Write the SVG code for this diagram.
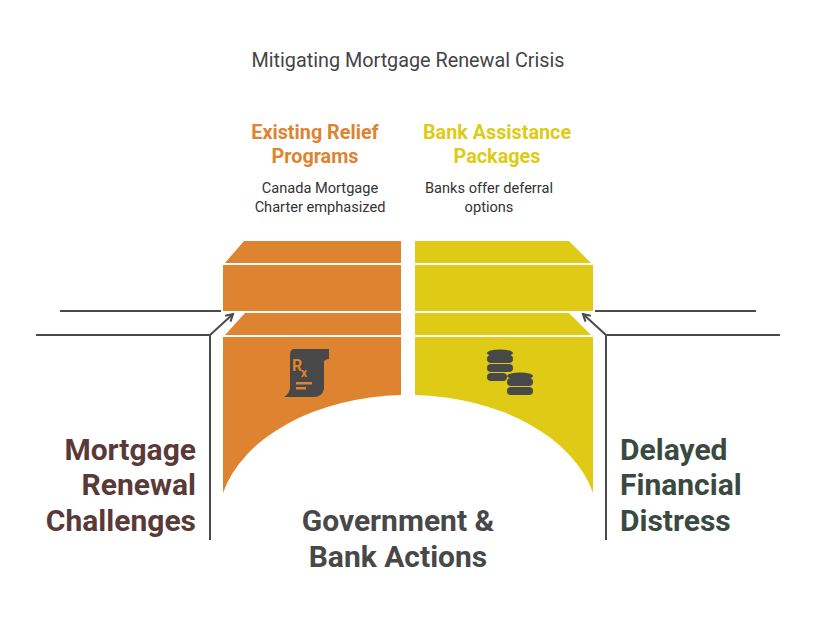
<svg xmlns="http://www.w3.org/2000/svg" width="816" height="624" viewBox="0 0 816 624">
<style>
text{font-family:Roboto,"Liberation Sans",sans-serif}
.t{font-size:19.8px;fill:#444}
.hd{font-size:19.8px;font-weight:bold}
.d{font-size:14.6px;fill:#333}
.big{font-size:30px;font-weight:bold}
.ln{fill:none;stroke:#4a4a4a;stroke-width:2}
.or{fill:#DE8431}
.ye{fill:#DFCB16}
.ic{fill:#484848}
</style>
<defs><marker id="ah" markerWidth="10" markerHeight="10" refX="8" refY="5" orient="auto" markerUnits="userSpaceOnUse"><path d="M1,1 L8,5 L1,9" fill="none" stroke="#4a4a4a" stroke-width="2"/></marker></defs>
<rect width="816" height="624" fill="#fff"/>
<text class="t" x="408" y="67" text-anchor="middle">Mitigating Mortgage Renewal Crisis</text>
<g id="left-block">
<polygon class="or" points="244,241 401,241 401,263 225,263"/>
<rect class="or" x="223" y="265" width="178" height="46"/>
<polygon class="or" points="245,313 401,313 401,335 225,335"/>
<path class="or" d="M223,337 H401 V395 A190 127 0 0 0 223,493 Z"/>
<g class="ic" transform="translate(284,349)">
<path d="M10,0 H45 V10 Q42,10 40,12 V40 Q38,48 30,48 H0 Q6,44 6,38 V6 Q6,0 10,0 Z"/>
<text x="8" y="22" font-size="16" font-weight="bold" fill="#DE8431">R</text>
<text x="17" y="28" font-size="12" font-weight="bold" fill="#DE8431">x</text>
<rect x="12" y="33" width="16" height="2.5" fill="#DE8431"/>
<rect x="12" y="38" width="10" height="2.5" fill="#DE8431"/>
</g>
</g>
<g id="right-block">
<polygon class="ye" points="415,241 569,241 591,263 415,263"/>
<rect class="ye" x="415" y="265" width="178" height="46"/>
<polygon class="ye" points="415,313 569,313 591,335 415,335"/>
<path class="ye" d="M593,337 H415 V395 A190 127 0 0 1 593,493 Z"/>
<g class="ic">
<ellipse cx="500" cy="353" rx="13" ry="3.5"/>
<rect x="487" y="355" width="26" height="8" rx="4"/>
<rect x="487" y="364" width="26" height="8" rx="4"/>
<rect x="487" y="373" width="20" height="8" rx="4"/>
<ellipse cx="520" cy="376" rx="13" ry="3.5"/>
<rect x="507" y="378" width="26" height="8" rx="4"/>
<rect x="507" y="387" width="26" height="8" rx="4"/>
</g>
</g>
<g id="connectors">
<path class="ln" d="M60,311 H221"/>
<path class="ln" d="M36,335 H210 V540 M210,335 L233,314" marker-end="url(#ah)"/>
<path class="ln" d="M595,311 H756"/>
<path class="ln" d="M780,335 H606 V540 M606,335 L583,314" marker-end="url(#ah)"/>
</g>
<g id="label-relief"><text class="hd" fill="#DE8431" text-anchor="middle" x="315" y="139">Existing Relief</text><text class="hd" fill="#DE8431" text-anchor="middle" x="315" y="163">Programs</text>
<text class="d" text-anchor="middle" x="320" y="193">Canada Mortgage</text><text class="d" text-anchor="middle" x="320" y="212">Charter emphasized</text></g>
<g id="label-bank"><text class="hd" fill="#DFCB16" text-anchor="middle" x="497" y="139">Bank Assistance</text><text class="hd" fill="#DFCB16" text-anchor="middle" x="497" y="163">Packages</text>
<text class="d" text-anchor="middle" x="489" y="193">Banks offer deferral</text><text class="d" text-anchor="middle" x="489" y="212">options</text></g>
<g id="label-challenges" fill="#5a3a38"><text class="big" text-anchor="end" x="196" y="460">Mortgage</text><text class="big" text-anchor="end" x="196" y="495">Renewal</text><text class="big" text-anchor="end" x="196" y="531">Challenges</text></g>
<g id="label-distress" fill="#3a4a40"><text class="big" x="620" y="460">Delayed</text><text class="big" x="620" y="495">Financial</text><text class="big" x="620" y="531">Distress</text></g>
<g id="label-actions" fill="#484848"><text class="big" text-anchor="middle" x="398" y="531">Government &amp;</text><text class="big" text-anchor="middle" x="398" y="567">Bank Actions</text></g>
</svg>
